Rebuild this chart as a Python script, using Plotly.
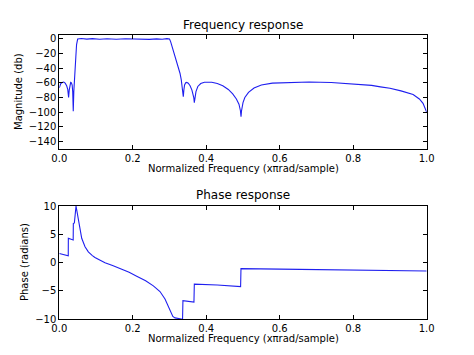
import plotly.graph_objects as go

# ---- Data ----
mag_freq = [0.000, 0.004, 0.008, 0.012, 0.016, 0.020, 0.023, 0.0253, 0.027, 0.029, 0.031,
            0.033, 0.035, 0.0365, 0.038, 0.0395, 0.041, 0.043, 0.045, 0.047, 0.049, 0.050,
            0.060, 0.075, 0.090, 0.110, 0.130, 0.155, 0.180, 0.200, 0.220, 0.245, 0.265,
            0.280, 0.293, 0.300, 0.303, 0.308, 0.315, 0.322, 0.3285, 0.332, 0.334, 0.336,
            0.3375, 0.339, 0.341, 0.344, 0.347, 0.351, 0.356, 0.361, 0.364, 0.366, 0.3675,
            0.369, 0.372, 0.377, 0.385, 0.395, 0.405, 0.415, 0.430, 0.445, 0.460, 0.472,
            0.482, 0.489, 0.493, 0.4946, 0.496, 0.500, 0.505, 0.515, 0.530, 0.550, 0.580,
            0.620, 0.680, 0.740, 0.800, 0.850, 0.874, 0.900, 0.930, 0.963, 0.980, 0.990, 1.000]
mag_db = [-67, -61, -59.5, -59, -60.5, -64, -69, -80, -70, -62, -59.5,
          -60, -63, -72, -98.5, -72, -62, -45, -25, -8, -1, -0.5,
          0.2, -0.6, 0.1, -0.7, 0.0, -0.8, -0.2, -0.6, -0.1, -0.9, -0.3,
          -0.8, 0.1, -0.5, -4, -12, -23, -34, -47, -56, -63, -72,
          -79, -70, -63, -60, -59.5, -60.5, -64, -70, -75, -80, -87,
          -80, -72, -65, -61, -59.3, -59, -59.3, -61, -64, -69, -75,
          -82, -89, -98, -106, -98, -87, -80, -73, -67, -63, -60.5,
          -59.5, -59, -59.5, -61.5, -63.5, -65.5, -67.5, -71, -76, -82, -88, -100]

ph_freq = [0.000, 0.012, 0.0244, 0.0246, 0.037, 0.0378, 0.0382, 0.041, 0.0455,
           0.0485, 0.0518, 0.056, 0.061, 0.070, 0.079, 0.090, 0.097, 0.110, 0.1244,
           0.145, 0.1698, 0.190, 0.2107, 0.235, 0.256, 0.274, 0.2877, 0.2967, 0.303,
           0.309, 0.315, 0.325, 0.3355, 0.3365, 0.350, 0.3665, 0.3675, 0.383, 0.430,
           0.4935, 0.4945, 0.600, 0.800, 1.000]
ph_rad = [1.6, 1.45, 1.2, 4.3, 4.0, 4.0, 6.9, 7.0, 10.0,
          8.8, 7.3, 5.6, 4.3, 2.8, 1.9, 1.25, 0.9, 0.45, -0.03,
          -0.5, -1.1, -1.7, -2.4, -3.2, -4.1, -5.1, -6.4, -7.8, -8.9,
          -9.5, -9.75, -9.9, -9.98, -6.7, -6.8, -6.95, -3.8, -3.83, -3.95,
          -4.24, -1.05, -1.15, -1.32, -1.47]

x_ticks = [0.0, 0.2, 0.4, 0.6, 0.8, 1.0]
mag_ticks = [0, -20, -40, -60, -80, -100, -120, -140]
ph_ticks = [10, 5, 0, -5, -10]

FONT = "DejaVu Sans"
LINE = "#1f1fef"
OFF = 8                      # browser body margin
W, H = 474 - OFF, 355 - OFF  # figure size so the page fits the window


def px_x(p):
    return (p - OFF) / W


def px_y(p):
    return 1 - (p - OFF) / H


fig = go.Figure()
fig.add_trace(go.Scatter(x=mag_freq, y=mag_db, mode="lines",
                         line=dict(color=LINE, width=1.1), xaxis="x", yaxis="y"))
fig.add_trace(go.Scatter(x=ph_freq, y=ph_rad, mode="lines",
                         line=dict(color=LINE, width=1.1), xaxis="x2", yaxis="y2"))

axis_common = dict(showline=True, linecolor="black", linewidth=1, mirror="ticks",
                   ticks="inside", ticklen=4, tickwidth=1, tickcolor="black",
                   showgrid=False, zeroline=False, automargin=False,
                   tickfont=dict(family=FONT, size=10, color="black"))

x0, x1 = px_x(59.3), px_x(426.7)
top_dom = [px_y(149), px_y(35)]
bot_dom = [px_y(319.3), px_y(206)]

fig.update_layout(
    width=W, height=H,
    margin=dict(l=0, r=0, t=0, b=0, pad=0, autoexpand=False),
    paper_bgcolor="white", plot_bgcolor="white",
    showlegend=False,
    xaxis=dict(domain=[x0, x1], range=[0, 1], tickvals=x_ticks, tickformat=".1f",
               anchor="y", **axis_common),
    yaxis=dict(domain=top_dom, range=[-150, 5], tickvals=mag_ticks, anchor="x",
               **axis_common),
    xaxis2=dict(domain=[x0, x1], range=[0, 1], tickvals=x_ticks, tickformat=".1f",
                anchor="y2", **axis_common),
    yaxis2=dict(domain=bot_dom, range=[-10, 10], tickvals=ph_ticks, anchor="x2",
                **axis_common),
)

cx = (x0 + x1) / 2
ann = [
    dict(text="Frequency response", x=cx, y=px_y(25), size=12, angle=0),
    dict(text="Normalized Frequency (x\u03c0rad/sample)", x=cx, y=px_y(168), size=10, angle=0),
    dict(text="Magnitude (db)", x=px_x(18), y=px_y(92), size=10, angle=-90),
    dict(text="Phase response", x=cx, y=px_y(195), size=12, angle=0),
    dict(text="Normalized Frequency (x\u03c0rad/sample)", x=cx, y=px_y(338), size=10, angle=0),
    dict(text="Phase (radians)", x=px_x(24), y=px_y(262), size=10, angle=-90),
]
for a in ann:
    fig.add_annotation(text=a["text"], x=a["x"], y=a["y"], xref="paper", yref="paper",
                       showarrow=False, xanchor="center", yanchor="middle",
                       textangle=a["angle"],
                       font=dict(family=FONT, size=a["size"], color="black"))

fig.write_html("out.html")
